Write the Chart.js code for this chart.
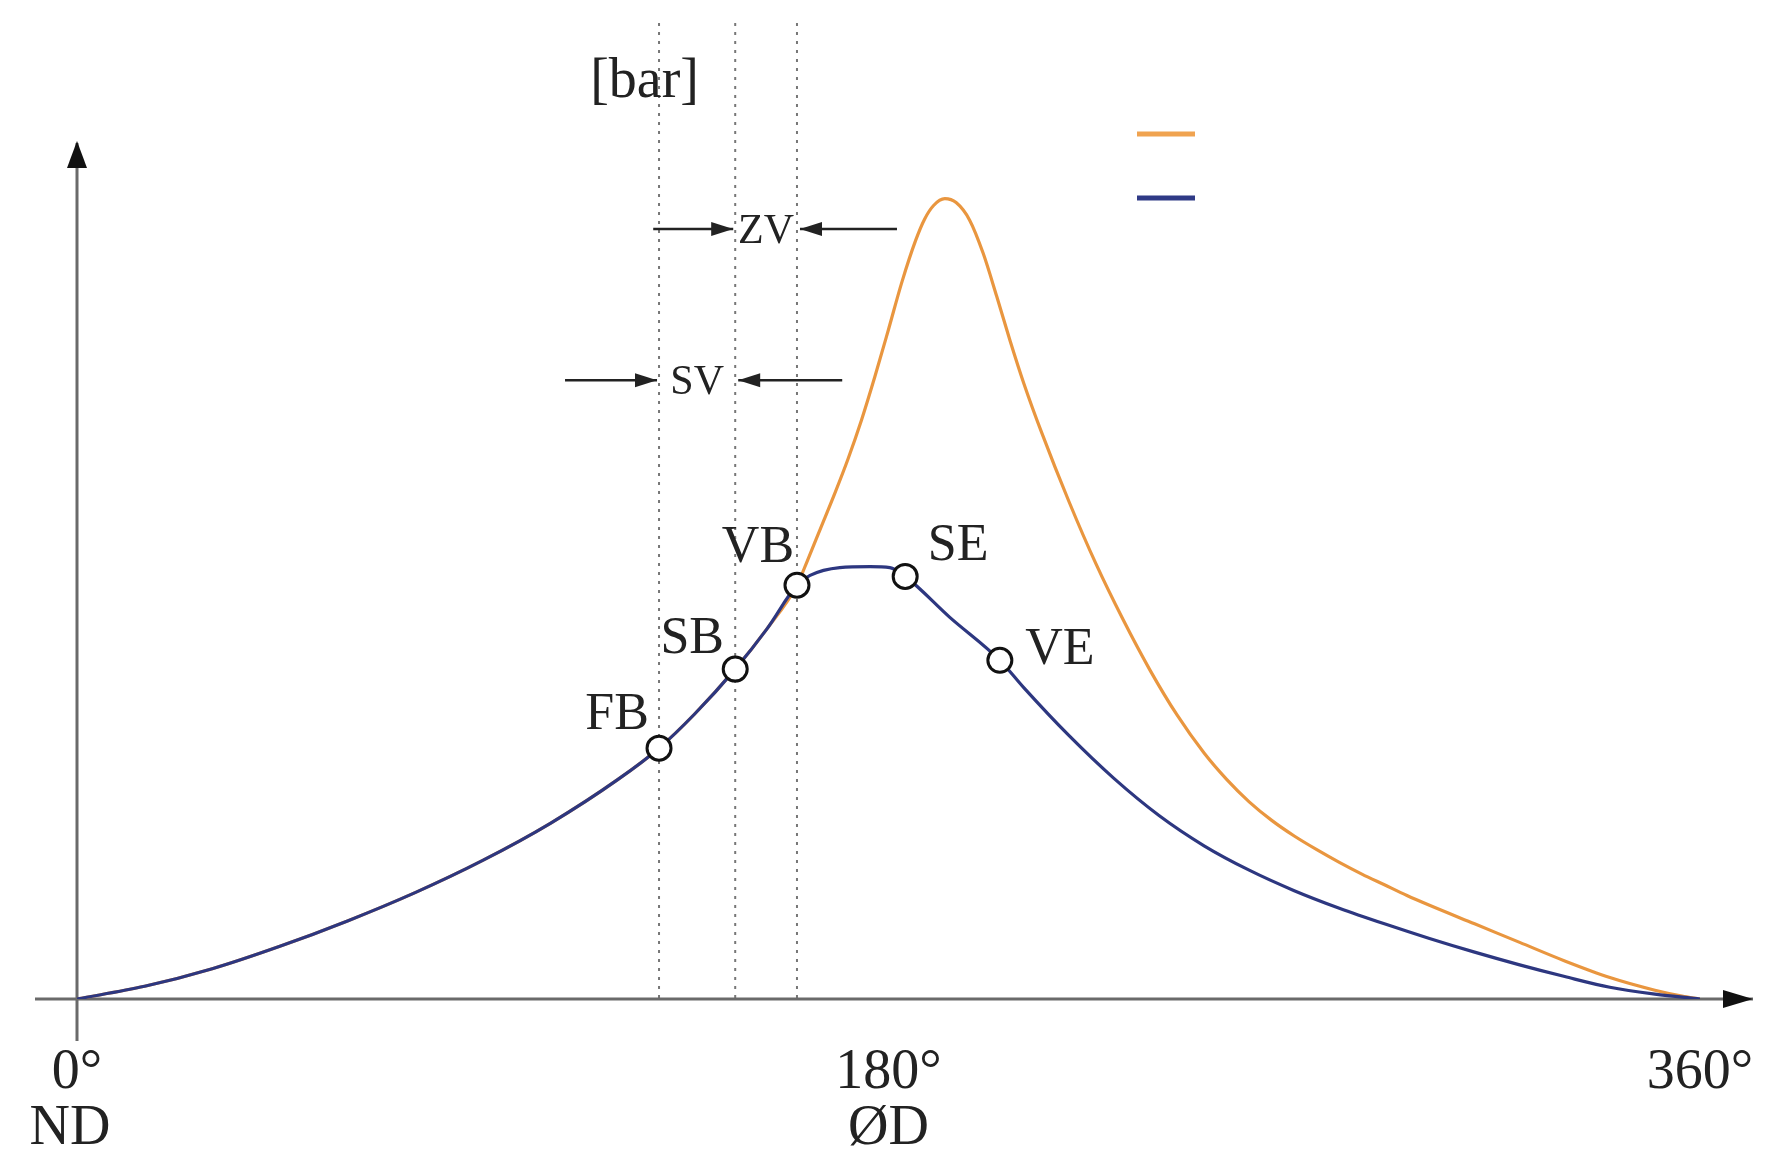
<!DOCTYPE html>
<html>
<head>
<meta charset="utf-8">
<script src="https://cdn.jsdelivr.net/npm/chart.js@4.4.1/dist/chart.umd.min.js"></script>
<style>
  html, body { margin: 0; padding: 0; background: #fff; }
  #wrap { width: 1766px; height: 1165px; position: relative; }
</style>
</head>
<body>
<div id="wrap"><canvas id="chart"></canvas></div>
<script>
// crank angle [deg] vs cylinder pressure (no scale on the axis)
const sharedAngles = [0, 15, 30, 45, 60, 75, 90, 105, 120, 129.1, 137, 146.0, 153, 159.7];
const sharedValues = [0, 0.13, 0.31, 0.54, 0.80, 1.09, 1.42, 1.80, 2.25, 2.57, 2.92, 3.38, 3.79, 4.24];

const blueAngles = [162.6, 169.2, 175.9, 180.3, 183.7, 193.6, 204.7, 210, 220, 230, 240, 250, 260, 270, 280, 290, 300, 310, 320, 330, 340, 350, 360];
const blueValues = [4.34, 4.42, 4.43, 4.42, 4.33, 3.91, 3.47, 3.19, 2.70, 2.26, 1.88, 1.57, 1.32, 1.11, 0.93, 0.77, 0.62, 0.48, 0.35, 0.23, 0.12, 0.05, 0];

const orangeAngles = [162, 165, 168, 171, 174, 177, 180, 183, 186, 188, 190, 192.5, 195, 198, 201, 204, 207, 210, 214, 220, 226, 232, 238, 244, 250, 255, 260, 265, 270, 275, 280, 285, 290, 295, 300, 310, 320, 330, 340, 350, 356, 360];
const orangeValues = [4.49, 4.83, 5.17, 5.53, 5.93, 6.38, 6.86, 7.35, 7.77, 7.99, 8.13, 8.20, 8.16, 7.98, 7.64, 7.20, 6.74, 6.31, 5.80, 5.10, 4.46, 3.89, 3.37, 2.91, 2.52, 2.25, 2.02, 1.83, 1.67, 1.53, 1.40, 1.28, 1.17, 1.06, 0.96, 0.77, 0.58, 0.39, 0.22, 0.09, 0.03, 0];

const markerNames = ['FB', 'SB', 'VB', 'SE', 'VE'];
const markerAngles = [129.1, 146.0, 159.7, 183.7, 204.7];
const markerValues = [2.57, 3.38, 4.24, 4.33, 3.47];

const guideMarkers = ['FB', 'SB', 'VB'];

const spanNames = ['SV', 'ZV'];
const spanFrom = ['FB', 'SB'];
const spanTo = ['SB', 'VB'];
const spanLevels = [6.34, 7.89];

const tickAngles = [0, 180, 360];
const tickLabels = [['0°', 'ND\u00a0'], ['180°', 'ØD'], ['360°', '']];

const unitLabel = '[bar]';
const unitAngle = 125.9;
const unitLevel = 9.41;

const serif = "'Liberation Serif', 'DejaVu Serif', serif";
const ink = '#222';

function pts(a, v) { return a.map((x, i) => ({ x: x, y: v[i] })); }

function markerAngle(name) { return markerAngles[markerNames.indexOf(name)]; }

function arrow(ctx, fromX, toX, y, len, half) {
    ctx.beginPath();
    ctx.moveTo(fromX, y);
    ctx.lineTo(toX, y);
    ctx.stroke();
    const dir = toX > fromX ? 1 : -1;
    ctx.beginPath();
    ctx.moveTo(toX, y);
    ctx.lineTo(toX - dir * len, y - half);
    ctx.lineTo(toX - dir * len, y + half);
    ctx.closePath();
    ctx.fill();
}

// label offsets next to the circles
const labelOffsets = { FB: [-42, -33], SB: [-43, -30], VB: [-39, -37], SE: [53, -30], VE: [60, -10] };

const decor = {
    id: 'decor',
    beforeDatasetsDraw(chart) {
        const { ctx, chartArea: a, scales: { x } } = chart;
        ctx.save();
        // dotted guides
        ctx.strokeStyle = '#777';
        ctx.lineWidth = 2;
        ctx.setLineDash([3, 6]);
        guideMarkers.forEach(n => {
            const px = x.getPixelForValue(markerAngle(n));
            ctx.beginPath();
            ctx.moveTo(px, a.top);
            ctx.lineTo(px, a.bottom);
            ctx.stroke();
        });
        ctx.setLineDash([]);

        // axes with arrows
        ctx.strokeStyle = '#6a6a6a';
        ctx.fillStyle = '#111';
        ctx.lineWidth = 3;
        arrow(ctx, a.left - 42, a.right + 53, a.bottom, 30, 9);
        ctx.beginPath();
        ctx.moveTo(a.left, a.bottom + 42);
        ctx.lineTo(a.left, a.top + 120);
        ctx.stroke();
        ctx.beginPath();
        ctx.moveTo(a.left, a.top + 118);
        ctx.lineTo(a.left - 10, a.top + 145);
        ctx.lineTo(a.left + 10, a.top + 145);
        ctx.closePath();
        ctx.fill();
        ctx.restore();
    },
    afterDatasetsDraw(chart) {
        const { ctx, scales: { x, y } } = chart;
        ctx.save();
        ctx.fillStyle = ink;
        ctx.textAlign = 'center';
        ctx.textBaseline = 'middle';

        // marker names
        ctx.font = '52px ' + serif;
        markerNames.forEach((n, i) => {
            const off = labelOffsets[n];
            ctx.fillText(n, x.getPixelForValue(markerAngles[i]) + off[0], y.getPixelForValue(markerValues[i]) + off[1]);
        });

        // unit label
        ctx.font = '56px ' + serif;
        ctx.fillText(unitLabel, x.getPixelForValue(unitAngle), y.getPixelForValue(unitLevel) + 2);

        // SV / ZV spans
        ctx.font = '42px ' + serif;
        ctx.strokeStyle = '#222';
        ctx.fillStyle = '#222';
        ctx.lineWidth = 2.5;
        spanNames.forEach((n, i) => {
            const x1 = x.getPixelForValue(markerAngle(spanFrom[i]));
            const x2 = x.getPixelForValue(markerAngle(spanTo[i]));
            const py = y.getPixelForValue(spanLevels[i]);
            arrow(ctx, x1 - (i ? 82 : 94), x1 - 2, py, 22, 7);
            arrow(ctx, x2 + (i ? 100 : 107), x2 + 3, py, 22, 7);
            ctx.fillText(n, (x1 + x2) / 2, py + 3);
        });

        // legend swatches (no text)
        ctx.lineWidth = 5;
        ctx.strokeStyle = '#f0a350';
        ctx.beginPath(); ctx.moveTo(1137, 134); ctx.lineTo(1195, 134); ctx.stroke();
        ctx.strokeStyle = '#2f3a86';
        ctx.beginPath(); ctx.moveTo(1137, 198); ctx.lineTo(1195, 198); ctx.stroke();
        ctx.restore();
    }
};

new Chart(document.getElementById('chart'), {
    type: 'line',
    data: {
        datasets: [
            {
                label: 'Markers',
                data: pts(markerAngles, markerValues),
                showLine: false,
                pointRadius: 12,
                pointBorderWidth: 3,
                pointBorderColor: '#111',
                pointBackgroundColor: '#fff',
                order: 0
            },
            {
                label: 'Blue',
                data: pts(sharedAngles.concat(blueAngles), sharedValues.concat(blueValues)),
                borderColor: '#2d3780',
                borderWidth: 3.2,
                pointRadius: 0,
                cubicInterpolationMode: 'monotone',
                order: 1
            },
            {
                label: 'Orange',
                data: pts(sharedAngles.concat(orangeAngles), sharedValues.concat(orangeValues)),
                borderColor: '#e9963f',
                borderWidth: 3.2,
                pointRadius: 0,
                cubicInterpolationMode: 'monotone',
                order: 2
            }
        ]
    },
    options: {
        responsive: true,
        maintainAspectRatio: false,
        animation: false,
        layout: { padding: { left: 77, right: 66, top: 23, bottom: 6 } },
        plugins: { legend: { display: false }, tooltip: { enabled: false } },
        scales: {
            x: {
                type: 'linear',
                min: 0,
                max: 360,
                afterBuildTicks: s => { s.ticks = tickAngles.map(v => ({ value: v })); },
                afterFit: s => { s.height = 160; s.paddingLeft = 0; s.paddingRight = 0; },
                ticks: {
                    autoSkip: false,
                    maxRotation: 0,
                    padding: 46,
                    color: ink,
                    font: { family: serif, size: 56, lineHeight: 1.0 },
                    callback: v => tickLabels[tickAngles.indexOf(v)]
                },
                grid: { display: false, drawTicks: false },
                border: { display: false }
            },
            y: { display: false, min: 0, max: 10 }
        }
    },
    plugins: [decor]
});
</script>
</body>
</html>
